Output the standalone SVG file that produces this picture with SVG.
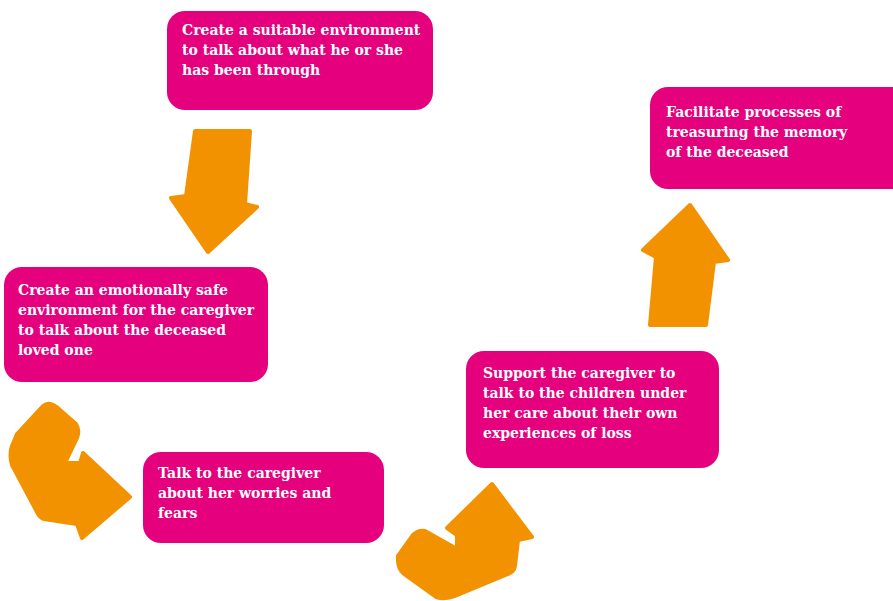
<svg xmlns="http://www.w3.org/2000/svg" width="893" height="601" viewBox="0 0 893 601">
<style>
.box{fill:#E5007D}
.arr{fill:#F39200;stroke:#F39200;stroke-width:4;stroke-linejoin:round}
.t{font-family:"DejaVu Serif","Liberation Serif",serif;font-weight:bold;font-size:14px;fill:#FFFFFF}
</style>
<rect width="893" height="601" fill="#FFFFFF"/>
<g id="connectors">
<polygon class="arr" points="195,131 250,131 245,204 257,207 208,252 171,198 186,196"/>
<polygon class="arr" points="690,205 728,260 714,262 706,325 650,325 656,257 643,250"/>
<path class="arr" d="M43,406 Q50,400 60,410 L76,424 Q80,430 77,438 L65,463 L80,463 L83,453 L130,497 L82,538 L77,524 L44,519 Q40,518 37,512 L12,465 Q9,455 12,446 L17,434 Z"/>
<path class="arr" d="M492,484 L532,537 L518,540 L515,566 Q514,572 508,574 L455,596 Q445,600 436,597 L404,574 Q397,568 398,556 L413,535 Q418,530 425,531 L457,549 L457,535 L447,528 Z"/>
</g>
<g id="node1">
<rect class="box" x="167" y="11" width="266" height="99" rx="18"/>
<text class="t" x="182" y="35">Create a suitable environment</text>
<text class="t" x="182" y="55">to talk about what he or she</text>
<text class="t" x="182" y="75">has been through</text>
</g>
<g id="node2">
<rect class="box" x="650" y="87" width="263" height="102" rx="18"/>
<text class="t" x="666" y="117">Facilitate processes of</text>
<text class="t" x="666" y="137">treasuring the memory</text>
<text class="t" x="666" y="157">of the deceased</text>
</g>
<g id="node3">
<rect class="box" x="4" y="267" width="264" height="115" rx="18"/>
<text class="t" x="18" y="295">Create an emotionally safe</text>
<text class="t" x="18" y="315">environment for the caregiver</text>
<text class="t" x="18" y="335">to talk about the deceased</text>
<text class="t" x="18" y="355">loved one</text>
</g>
<g id="node4">
<rect class="box" x="466" y="351" width="253" height="117" rx="18"/>
<text class="t" x="483" y="378">Support the caregiver to</text>
<text class="t" x="483" y="398">talk to the children under</text>
<text class="t" x="483" y="418">her care about their own</text>
<text class="t" x="483" y="438">experiences of loss</text>
</g>
<g id="node5">
<rect class="box" x="143" y="452" width="241" height="91" rx="18"/>
<text class="t" x="158" y="478">Talk to the caregiver</text>
<text class="t" x="158" y="498">about her worries and</text>
<text class="t" x="158" y="518">fears</text>
</g>
</svg>
